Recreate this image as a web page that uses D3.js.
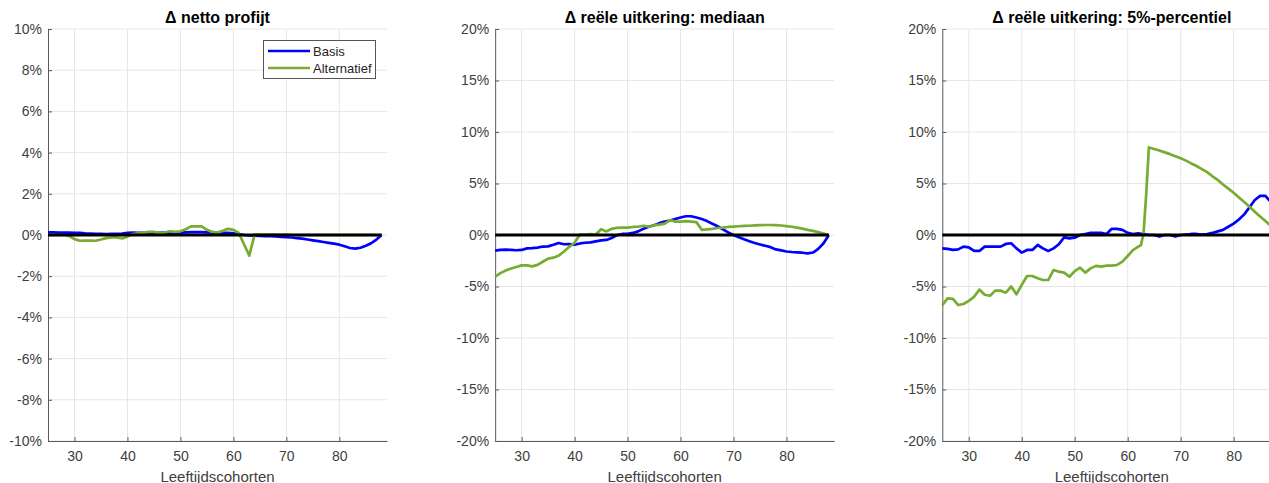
<!DOCTYPE html>
<html>
<head>
<meta charset="utf-8">
<script src="https://cdn.jsdelivr.net/npm/d3@7"></script>
<style>
  html, body { margin: 0; padding: 0; background: #fff; }
  svg { display: block; font-family: "Liberation Sans", Arial, Helvetica, sans-serif; }
</style>
</head>
<body>
<svg id="chart" width="1269" height="483"></svg>
<script>
// Leeftijdscohorten (x-as), per jaar
const ages = d3.range(25, 89);

// Δ netto profijt (%)
const profitBasis = [0.13,0.13,0.12,0.12,0.12,0.11,0.10,0.08,0.07,0.06,0.05,0.04,0.05,0.06,0.07,0.10,
  0.12,0.10,0.10,0.12,0.10,0.10,0.12,0.10,0.12,0.12,0.13,0.14,0.14,0.14,0.13,0.12,0.10,0.10,0.10,0.08,
  0.05,0.00,-0.02,-0.03,-0.04,-0.05,-0.06,-0.07,-0.09,-0.10,-0.12,-0.15,-0.18,-0.22,-0.26,-0.30,-0.34,
  -0.38,-0.42,-0.47,-0.55,-0.63,-0.66,-0.62,-0.52,-0.40,-0.22,0.00];
const profitAlt = [0,0,0,0,-0.05,-0.20,-0.28,-0.27,-0.27,-0.28,-0.22,-0.15,-0.12,-0.12,-0.17,-0.08,
  0.05,0.08,0.10,0.15,0.15,0.08,0.12,0.18,0.15,0.18,0.28,0.42,0.42,0.42,0.25,0.15,0.12,0.20,0.30,0.25,
  0.10,-0.45,-1.00,0.02,0.02,0.02,0.02,0.02,0.02,0.02,0,0,0,0,0,0,0,0,0,0,0,0,0,0,0,0,0,0];

// Δ reële uitkering: mediaan (%)
const medianBasis = [-1.52,-1.45,-1.42,-1.45,-1.48,-1.45,-1.30,-1.28,-1.22,-1.12,-1.10,-0.95,-0.78,-0.90,
  -0.88,-0.95,-0.82,-0.75,-0.72,-0.62,-0.52,-0.48,-0.30,0.00,0.10,0.12,0.20,0.35,0.60,0.80,0.95,1.15,
  1.30,1.40,1.55,1.70,1.82,1.82,1.70,1.55,1.35,1.10,0.85,0.55,0.25,0.00,-0.22,-0.42,-0.60,-0.78,-0.92,
  -1.05,-1.18,-1.40,-1.50,-1.60,-1.65,-1.68,-1.72,-1.78,-1.70,-1.35,-0.80,0.00];
const medianAlt = [-4.05,-3.70,-3.45,-3.25,-3.10,-2.95,-2.95,-3.05,-2.90,-2.60,-2.30,-2.20,-2.00,-1.60,
  -1.15,-0.75,0.05,0.05,0.10,0.05,0.55,0.35,0.60,0.70,0.72,0.72,0.78,0.80,0.90,0.80,0.95,1.00,1.10,1.45,
  1.30,1.30,1.35,1.30,1.25,0.50,0.55,0.60,0.68,0.72,0.78,0.82,0.85,0.88,0.90,0.93,0.95,0.97,0.97,0.96,
  0.92,0.87,0.80,0.72,0.62,0.50,0.40,0.28,0.15,0.00];

// Δ reële uitkering: 5%-percentiel (%)
const pctAges = [25,26,27,28,29,30,31,32,33,34,35,36,37,38,39,40,41,42,43,44,45,46,47,48,49,50,51,52,
  53,54,55,56,57,58,59,60,61,62,62.5,63,63.5,64,65,66,67,68,69,70,71,72,73,74,75,76,77,78,79,80,81,82,
  83,84,85,86,87];
const pctBasis = [-1.30,-1.35,-1.45,-1.40,-1.13,-1.20,-1.55,-1.55,-1.13,-1.13,-1.13,-1.13,-0.87,-0.80,
  -1.30,-1.71,-1.45,-1.45,-0.97,-1.30,-1.55,-1.30,-0.90,-0.23,-0.32,-0.26,0.00,0.10,0.20,0.22,0.20,0.10,
  0.60,0.60,0.50,0.20,0.10,0.15,0.12,0.10,0.05,0.00,0.00,-0.15,0.00,0.00,-0.15,0.00,0.05,0.10,0.10,0.05,
  0.10,0.20,0.35,0.50,0.80,1.10,1.50,2.00,2.70,3.40,3.80,3.80,3.20];
const pctAlt = [-6.80,-6.15,-6.20,-6.80,-6.70,-6.40,-6.00,-5.30,-5.80,-5.90,-5.40,-5.40,-5.60,-5.00,
  -5.75,-4.85,-3.98,-3.98,-4.20,-4.37,-4.37,-3.40,-3.56,-3.65,-4.05,-3.50,-3.17,-3.65,-3.24,-3.00,-3.07,
  -2.98,-2.98,-2.91,-2.59,-2.04,-1.46,-1.13,-1.00,0.20,4.00,8.50,8.35,8.20,8.02,7.85,7.65,7.45,7.22,
  6.95,6.70,6.40,6.10,5.70,5.35,4.90,4.50,4.10,3.65,3.20,2.75,2.25,1.80,1.35,0.90];

const panels = [
  { title: "\u0394 netto profijt", x: ages, basis: profitBasis, alt: profitAlt,
    yMin: -10, yMax: 10, yStep: 2, legend: true },
  { title: "\u0394 re\u00eble uitkering: mediaan", x: ages, basis: medianBasis, alt: medianAlt,
    yMin: -20, yMax: 20, yStep: 5, legend: false },
  { title: "\u0394 re\u00eble uitkering: 5%-percentiel", x: pctAges, basis: pctBasis, alt: pctAlt,
    yMin: -20, yMax: 20, yStep: 5, legend: false }
];

const xTicks = [30, 40, 50, 60, 70, 80];
const seriesNames = ["Basis", "Alternatief"];
const colors = { basis: "#0000ff", alt: "#77ac30" };

const svg = d3.select("#chart");
const plotTop = 29, plotBottom = 441, axW = 339, step = 447.15, left0 = 48;
const textCol = "#404040";

panels.forEach((p, i) => {
  const left = left0 + i * step;
  const x = d3.scaleLinear().domain([25, 89]).range([left, left + axW]);
  const y = d3.scaleLinear().domain([p.yMin, p.yMax]).range([plotBottom, plotTop]);
  const yTicks = d3.range(p.yMin, p.yMax + 0.001, p.yStep);
  const g = svg.append("g");

  // raster
  g.append("g").selectAll("line").data(xTicks).join("line")
    .attr("x1", d => x(d)).attr("x2", d => x(d)).attr("y1", plotTop).attr("y2", plotBottom)
    .attr("stroke", "#e6e6e6").attr("stroke-width", 1);
  g.append("g").selectAll("line").data(yTicks).join("line")
    .attr("x1", left).attr("x2", left + axW).attr("y1", d => y(d)).attr("y2", d => y(d))
    .attr("stroke", "#e6e6e6").attr("stroke-width", 1);

  // assen
  const yAxis = d3.axisLeft(y).tickValues(yTicks).tickFormat(d => d + "%")
    .tickSizeInner(-4).tickSizeOuter(0).tickPadding(6);
  const xAxis = d3.axisBottom(x).tickValues(xTicks).tickFormat(d3.format("d"))
    .tickSizeInner(-4).tickSizeOuter(0).tickPadding(10);

  const ya = g.append("g").attr("transform", `translate(${left},0)`).call(yAxis);
  const xa = g.append("g").attr("transform", `translate(0,${plotBottom})`).call(xAxis);
  [ya, xa].forEach(a => {
    a.select(".domain").attr("stroke", "#5a5a5a").attr("stroke-width", 1);
    a.selectAll(".tick line").attr("stroke", "#5a5a5a");
    a.selectAll("text").attr("fill", textCol).style("font-size", "14px")
      .style("font-family", "'Liberation Sans', Arial, sans-serif");
  });

  // lijnen
  const line = vals => d3.line().x((d, k) => x(p.x[k])).y(d => y(d))(vals);
  g.append("path").attr("d", line(p.basis)).attr("fill", "none")
    .attr("stroke", colors.basis).attr("stroke-width", 2.7).attr("stroke-linejoin", "round");
  g.append("path").attr("d", line(p.alt)).attr("fill", "none")
    .attr("stroke", colors.alt).attr("stroke-width", 2.7).attr("stroke-linejoin", "round");

  // nullijn
  g.append("line").attr("x1", x(25)).attr("x2", x(88)).attr("y1", y(0)).attr("y2", y(0))
    .attr("stroke", "#000").attr("stroke-width", 3);

  // titel en as-label
  g.append("text").attr("x", left + axW / 2).attr("y", 23).attr("text-anchor", "middle")
    .style("font-size", "16px").style("font-weight", "bold").attr("fill", "#000").text(p.title);
  g.append("text").attr("x", left + axW / 2).attr("y", 481.5).attr("text-anchor", "middle")
    .style("font-size", "15px").attr("fill", textCol).text("Leeftijdscohorten");

  // legenda
  if (p.legend) {
    const lg = g.append("g");
    lg.append("rect").attr("x", 263.5).attr("y", 40.5).attr("width", 112).attr("height", 38)
      .attr("fill", "#fff").attr("stroke", "#555").attr("stroke-width", 1);
    [colors.basis, colors.alt].forEach((c, k) => {
      const yy = 51 + k * 17;
      lg.append("line").attr("x1", 268).attr("x2", 310).attr("y1", yy).attr("y2", yy)
        .attr("stroke", c).attr("stroke-width", 2.7);
      lg.append("text").attr("x", 313).attr("y", yy + 4.5).style("font-size", "13px")
        .attr("fill", "#262626").text(seriesNames[k]);
    });
  }
});
</script>
</body>
</html>
